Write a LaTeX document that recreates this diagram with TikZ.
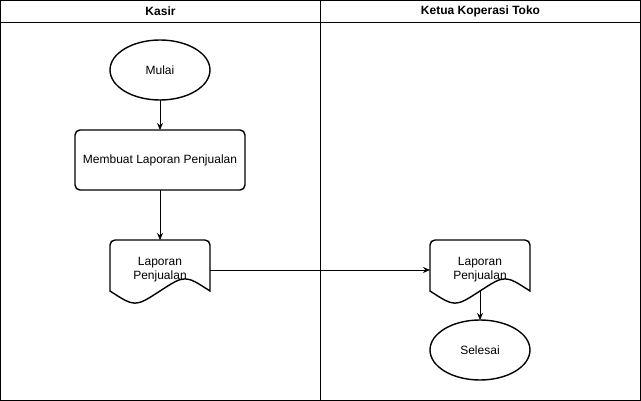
\documentclass[tikz,border=0pt]{standalone}
\usepackage{fontspec}
\setmainfont{Liberation Sans}
\usetikzlibrary{arrows.meta,calc,shapes.geometric}
\tikzset{
	lane/.style={line width=0.8pt},
	flow/.style={line width=0.8pt, -{Stealth[length=7pt,width=6pt]}},
	terminal/.style={ellipse, draw, line width=1.4pt, minimum width=100pt, minimum height=60pt, inner sep=0pt, outer sep=0pt},
	proses/.style={rectangle, rounded corners=5pt, draw, line width=1.4pt, minimum width=170pt, minimum height=60pt, outer sep=0pt},
	dokumen/.style={rectangle, draw=none, minimum width=100pt, minimum height=60pt, align=center, outer sep=0pt}
}
% bottom wave of a document node
\newcommand\gelombang[1]{
	\draw[line width=1.4pt] ($(#1.north west)+(0,51)$) [rounded corners=5pt] -- (#1.north west) -- (#1.north east) [sharp corners] -- ($(#1.north east)+(0,51)$)
		.. controls ($(#1.north west)+(75,34.8)$) .. ($(#1.north west)+(50,51)$)
		.. controls ($(#1.north west)+(25,67.2)$) .. cycle;
}

\begin{document}
\begin{tikzpicture}[x=1pt, y=-1pt, font=\fontsize{12}{14}\selectfont]
	\useasboundingbox (0,0) rectangle (641,401);
	% swimlanes
	\draw[lane] (0.5,0.5) rectangle (640.5,400.5);
	\draw[lane] (0.5,22.5) -- (640.5,22.5);
	\draw[lane] (320.5,0.5) -- (320.5,400.5);
	\node[font=\fontsize{12}{14}\selectfont\bfseries] (kasir) at (160.5,11.5) {Kasir};
	\node[font=\fontsize{12}{14}\selectfont\bfseries] (ketua) at (480.5,11.5) {Ketua Koperasi Toko};

	% kasir
	\node[terminal] (mulai) at (160,70) {Mulai};
	\node[proses] (buat) at (160,160) {Membuat Laporan Penjualan};
	\node[dokumen] (lap1) at (160,270) {Laporan\\Penjualan};
	\gelombang{lap1}

	% ketua koperasi
	\node[dokumen] (lap2) at (480,270) {Laporan\\Penjualan};
	\gelombang{lap2}
	\coordinate (lap2bawah) at ($(lap2.north)+(0,51)$);
	\node[terminal] (selesai) at (480,350) {Selesai};

	\draw[flow] (mulai) -- (buat);
	\draw[flow] (buat) -- (lap1);
	\draw[flow] (lap1.east) -- (lap2.west);
	\draw[flow] (lap2bawah) -- (selesai);
\end{tikzpicture}
\end{document}
